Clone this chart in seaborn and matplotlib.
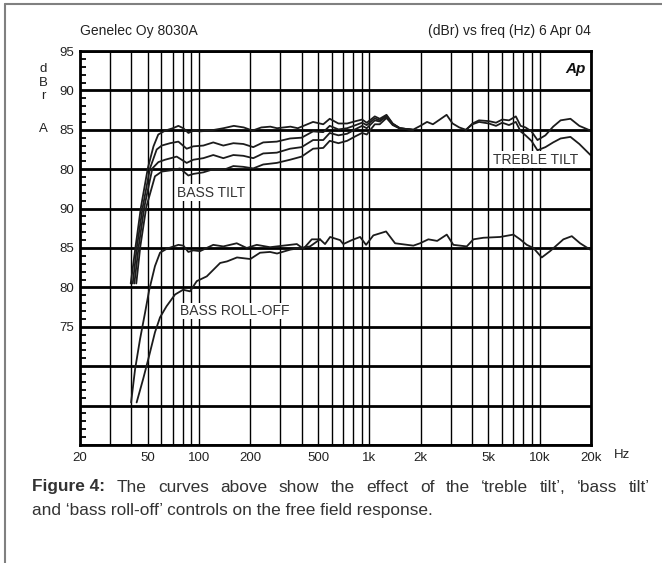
import matplotlib
matplotlib.use("Agg")
import matplotlib.pyplot as plt
from matplotlib.ticker import FixedLocator, MultipleLocator
from matplotlib.lines import Line2D
import seaborn as sns

# ---------------- data ----------------
# upper group (dBr A, axis values as labelled 95..80)
A_FREQ = [39.7, 42.4, 45.6, 50.0, 54.0, 57.6, 63.3, 70.2, 75.6, 80.8, 86.6, 92.9, 101, 116, 139, 160, 183, 206, 232, 262,
          287, 344, 380, 400, 467, 536, 585, 658, 740, 832, 906, 965, 1076, 1150, 1260, 1370, 1510, 1800, 1990, 2180,
          2360, 2590, 2840, 3080, 3370, 3690, 4030, 4400, 5030, 5540, 6020, 6600, 7240, 7720, 8250, 8940, 9700, 10800,
          11990, 13260, 15150, 17080, 19850]
A_DB = [65.5, 70.2, 75.2, 80.1, 82.9, 84.4, 84.9, 85.2, 85.5, 85.2, 84.6, 84.9, 84.8, 84.9, 85.2, 85.5, 85.3, 84.9, 85.3, 85.4,
        85.2, 85.4, 85.2, 85.4, 86.0, 85.7, 86.4, 85.8, 85.8, 86.1, 86.3, 85.9, 86.7, 86.4, 86.9, 85.8, 85.2, 85.0, 85.5, 86.0,
        85.7, 86.3, 86.9, 85.8, 85.3, 85.0, 85.8, 86.2, 86.1, 85.9, 86.3, 86.2, 86.7, 85.5, 85.3, 84.8, 83.7, 84.3,
        85.4, 86.2, 86.4, 85.5, 84.9]

B_FREQ = [40.8, 43.2, 46.7, 51.5, 56.4, 60.4, 67.6, 75.6, 84.6, 92.5, 105.9, 121.2, 138.8, 159, 182, 208, 238, 286, 342, 400,
          467, 536, 585, 658, 740, 832, 906, 965, 1076, 1150, 1260, 1370, 1510, 1800]
B_DB = [65.5, 70.2, 75.2, 80.1, 82.5, 83.0, 83.3, 83.5, 82.6, 82.9, 83.0, 83.4, 83.0, 83.3, 83.2, 82.8, 83.4, 83.5, 83.9, 84.0,
        84.8, 84.7, 85.5, 85.05, 85.2, 85.6, 85.9, 85.6, 86.45, 86.2, 86.8, 85.75, 85.2, 85.0]

C_FREQ = [41.7, 44.2, 47.7, 53.2, 57.7, 63.1, 73.9, 84.6, 92.5, 105.9, 121.2, 138.8, 159, 182, 208, 238, 286, 342, 400, 467,
          536, 585, 658, 740, 832, 906, 965, 1076, 1150, 1260, 1370, 1510, 1800]
C_DB = [65.5, 70.2, 75.2, 80.1, 80.9, 81.2, 81.6, 80.8, 81.2, 81.4, 81.8, 81.4, 81.8, 81.7, 81.4, 82.0, 82.1, 82.6, 82.8, 83.7,
        83.7, 84.6, 84.3, 84.5, 85.1, 85.5, 85.2, 86.2, 86.05, 86.7, 85.7, 85.2, 85.0]

D_FREQ = [42.8, 45.2, 49.0, 55.1, 60.4, 70.6, 77.3, 86.5, 92.5, 105.9, 121.2, 138.8, 159, 182, 208, 238, 286, 342, 400, 467,
          536, 585, 658, 740, 832, 906, 965, 1076, 1150, 1260, 1370, 1510, 1800]
D_DB = [65.5, 70.2, 75.2, 79.1, 79.7, 79.9, 80.1, 79.2, 79.4, 79.6, 80.0, 79.9, 80.4, 80.3, 80.1, 80.6, 80.8, 81.2, 81.6, 82.6,
        82.7, 83.6, 83.3, 83.6, 84.2, 84.6, 84.4, 85.7, 85.7, 86.5, 85.6, 85.15, 85.0]

TREBLE_FREQ = [3690, 4030, 4400, 5030, 5540, 6020, 6600, 7240, 7720, 8250, 8940, 9700, 10800, 11990, 13260, 15150, 17080, 19850]
TREBLE_DB = [85.0, 85.7, 86.0, 85.8, 85.5, 85.9, 85.6, 86.0, 84.8, 84.3, 83.6, 82.4, 82.8, 83.4, 83.9, 84.1, 83.2, 81.8]

# lower group (values as labelled on the lower scale 90..75)
E_FREQ = [39.9, 42.1, 45.0, 48.2, 51.0, 55.1, 59.0, 64.6, 75.6, 80.9, 86.5, 92.5, 101.3, 121.2, 138.8, 166.4, 190.5, 218, 261, 342,
          375, 410, 459, 513, 549, 588, 673, 703, 788, 882, 956, 1055, 1253, 1415, 1812, 1984, 2219, 2500, 2846, 3112,
          3730, 4078, 4668, 5852, 7006, 7670, 8396, 9180, 10280, 11500, 13770, 15430, 17260, 19760]
E_DB = [65.4, 69.6, 73.4, 76.8, 79.7, 82.7, 84.4, 84.9, 85.4, 85.3, 84.5, 84.7, 84.6, 85.4, 85.2, 85.6, 85.0, 85.4, 85.1, 85.4,
        85.5, 84.9, 86.1, 86.1, 85.5, 86.4, 86.0, 85.5, 86.0, 86.4, 85.4, 86.6, 87.1, 85.6, 85.3, 85.6, 86.1, 85.9, 86.7, 85.4,
        85.2, 86.1, 86.3, 86.4, 86.7, 86.1, 85.4, 85.0, 83.8, 84.6, 86.1, 86.5, 85.6, 84.8]

F_FREQ = [43.0, 47.0, 50.9, 55.1, 59.0, 64.4, 72.3, 80.6, 88.5, 97.0, 111, 133, 146, 167, 200, 228, 261, 287, 344, 393, 448, 513]
F_DB = [65.4, 68.4, 71.3, 74.3, 76.2, 77.6, 79.1, 79.7, 79.5, 80.8, 81.4, 83.1, 83.3, 83.8, 83.6, 84.4, 84.5, 84.3, 84.8, 85.0, 85.2, 86.1]

LOWER_OFFSET = 15  # lower group is drawn 15 dB below its labelled scale

X_TICKS = [20, 50, 100, 200, 500, 1000, 2000, 5000, 10000, 20000]
X_TICK_LABELS = ["20", "50", "100", "200", "500", "1k", "2k", "5k", "10k", "20k"]
X_GRID = [30, 40, 60, 70, 80, 90, 300, 400, 600, 700, 800, 900,
          3000, 4000, 6000, 7000, 8000, 9000]
Y_TICKS = [45, 50, 55, 60, 65, 70, 75, 80, 85, 90, 95]
Y_TICK_LABELS = ["", "", "", "75", "80", "85", "90", "80", "85", "90", "95"]

CAPTION_BOLD = "Figure 4:"
CAPTION_LINE1 = "The curves above show the effect of the \u2018treble tilt\u2019, \u2018bass tilt\u2019"
CAPTION_LINE2 = "and \u2018bass roll-off\u2019 controls on the free field response."

# ---------------- figure ----------------
sns.set_theme(style="white")
plt.rcParams['font.family'] = ['Liberation Sans', 'DejaVu Sans']

W, H = 662, 563
fig = plt.figure(figsize=(W / 100, H / 100), dpi=100)
fig.patch.set_facecolor("white")
L, R, T, B = 80, 591, 51, 445
ax = fig.add_axes([L / W, 1 - B / H, (R - L) / W, (B - T) / H])
ax.set_facecolor("white")
ax.set_xscale("log")

line_kw = dict(color="#1c1c1c", linewidth=1.3, estimator=None, sort=False, legend=False, ax=ax)
for fr, db in [(D_FREQ, D_DB), (C_FREQ, C_DB), (B_FREQ, B_DB), (TREBLE_FREQ, TREBLE_DB), (A_FREQ, A_DB)]:
    sns.lineplot(x=fr, y=db, **line_kw)
for fr, db in [(F_FREQ, F_DB), (E_FREQ, E_DB)]:
    sns.lineplot(x=fr, y=[v - LOWER_OFFSET for v in db], **line_kw)

ax.set_xlim(20, 20000)
ax.set_ylim(45, 95)

ax.xaxis.set_major_locator(FixedLocator(X_TICKS))
ax.set_xticklabels(X_TICK_LABELS)
ax.xaxis.set_minor_locator(FixedLocator(X_GRID))
ax.grid(which="both", axis="x", color="black", linewidth=1.0)
ax.set_yticks(Y_TICKS)
ax.set_yticklabels(Y_TICK_LABELS)
ax.yaxis.set_minor_locator(MultipleLocator(1))
ax.grid(which="major", axis="y", color="black", linewidth=2.0)
ax.grid(which="minor", axis="y", visible=False)
ax.set_axisbelow(True)

ax.tick_params(axis="x", which="both", length=0, pad=5, labelsize=9.5, labelcolor="#222222")
ax.tick_params(axis="y", which="major", length=0, pad=4, labelsize=9.5, labelcolor="#222222")
ax.tick_params(axis="y", which="minor", left=True, direction="in", length=4, width=1.3, color="black")
for s in ax.spines.values():
    s.set_visible(True)
    s.set_color("black")
    s.set_linewidth(2.0)
ax.set_xlabel("")
ax.set_ylabel("")

# in-plot labels
lab_kw = dict(fontsize=10, color="#333333", ha="center", va="center",
              bbox=dict(facecolor="white", edgecolor="none", pad=1.0), zorder=5)
ax.text(118, 77.0, "BASS TILT", **lab_kw)
ax.text(163, 62.0, "BASS ROLL-OFF", **lab_kw)
ax.text(9480, 81.2, "TREBLE TILT", **lab_kw)
ax.text(0.99, 0.955, "Ap", transform=ax.transAxes, ha="right", va="center",
        fontsize=11, fontweight="bold", fontstyle="italic", color="#111111")

# header texts
fig.text(L / W, 1 - 31 / H, "Genelec Oy 8030A", ha="left", va="center", fontsize=10, color="#222222")
fig.text(R / W, 1 - 31 / H, "(dBr) vs freq (Hz) 6 Apr 04", ha="right", va="center", fontsize=10, color="#222222")
for ch, yy in [("d", 69), ("B", 83), ("r", 96), ("A", 129)]:
    fig.text(43 / W, 1 - yy / H, ch, ha="center", va="center", fontsize=9.5, color="#222222")
fig.text(622 / W, 1 - 455 / H, "Hz", ha="center", va="center", fontsize=9.5, color="#222222")

# caption: first line justified between x=32 and x=650, second line flush left
cap_fs = 12.4
cap_y1, cap_y2 = 487, 510
cap_left, cap_right = 32, 650
renderer = fig.canvas.get_renderer()
words = [(CAPTION_BOLD, "bold")] + [(w, "normal") for w in CAPTION_LINE1.split(" ")]
texts = []
for w, wt in words:
    t = fig.text(0, 1 - cap_y1 / H, w, ha="left", va="center", fontsize=cap_fs,
                 fontweight=wt, color="#333333")
    texts.append(t)
widths = [t.get_window_extent(renderer).width for t in texts]
gap = (cap_right - cap_left - sum(widths)) / (len(words) - 1)
x = cap_left
for t, wd in zip(texts, widths):
    t.set_x(x / W)
    x += wd + gap
fig.text(cap_left / W, 1 - cap_y2 / H, CAPTION_LINE2, ha="left", va="center", fontsize=cap_fs, color="#333333")

# outer frame (left and top edges visible)
fig.add_artist(Line2D([5 / W, 5 / W], [0, 1 - 4 / H], transform=fig.transFigure, color="#808080", linewidth=1.5))
fig.add_artist(Line2D([5 / W, 1], [1 - 4 / H, 1 - 4 / H], transform=fig.transFigure, color="#808080", linewidth=1.5))

fig.savefig("out.png", dpi=100, facecolor="white")
